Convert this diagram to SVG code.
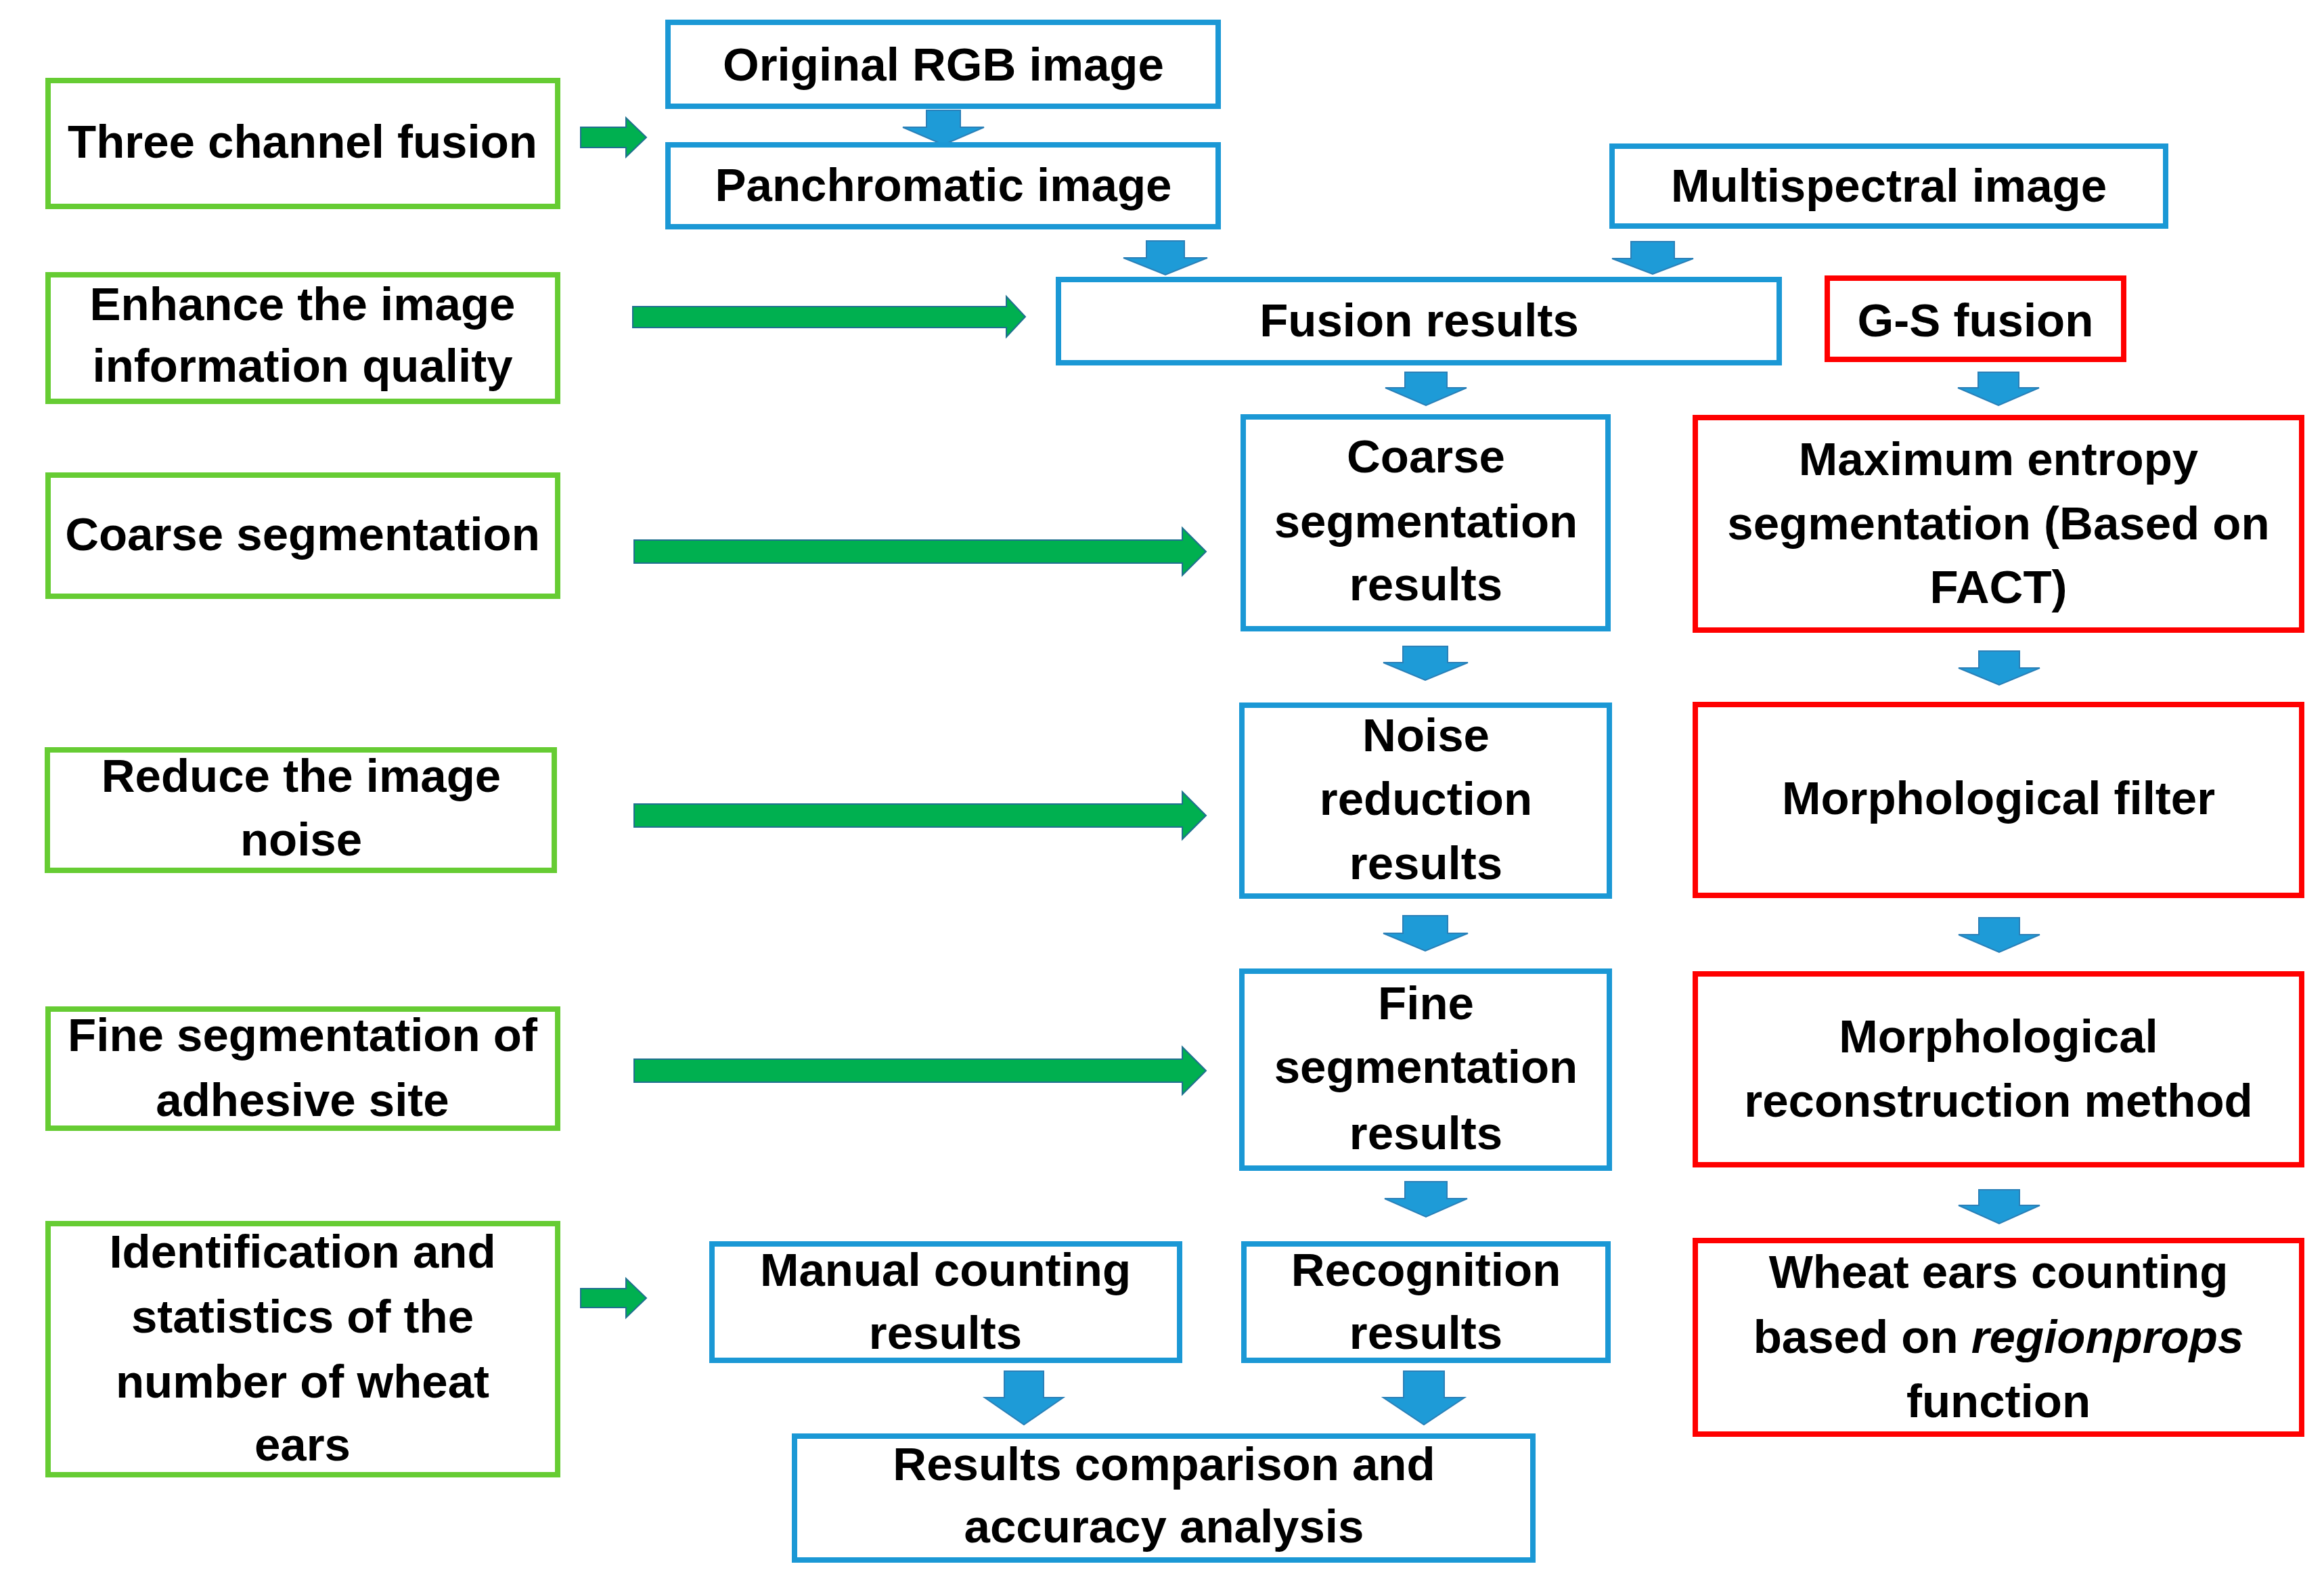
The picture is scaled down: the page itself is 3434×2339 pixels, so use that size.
<svg xmlns="http://www.w3.org/2000/svg" width="3434" height="2339" viewBox="0 0 3434 2339">
<style>
.bx{fill:#fff;stroke-width:8}
.g{stroke:#66cc33}
.b{stroke:#1b98d5}
.r{stroke:#ff0000}
.t{font-family:"Liberation Sans",Arial,sans-serif;font-weight:bold;font-size:69px;fill:#000;text-anchor:middle}
.da{fill:#1e9bd7;stroke:#2a80b8;stroke-width:2}
.ra{fill:#00b050;stroke:#1f6f8f;stroke-width:2}
</style>
<rect width="3434" height="2339" fill="#fff"/>
<g id="connectors">
<path class="da" d="M1369,163H1419V188H1454L1394,214L1334,188H1369Z"/>
<path class="da" d="M1694,356H1750V381H1784L1722,406L1660,381H1694Z"/>
<path class="da" d="M2410,357H2474V382H2502L2442,405L2382,382H2410Z"/>
<path class="da" d="M2076,550H2138V573H2167L2107,599L2047,573H2076Z"/>
<path class="da" d="M2923,550H2983V573H3013L2953,599L2893,573H2923Z"/>
<path class="da" d="M2073,955H2139V979H2169L2106,1005L2044,979H2073Z"/>
<path class="da" d="M2924,962H2984V987H3014L2954,1012L2894,987H2924Z"/>
<path class="da" d="M2073,1353H2139V1379H2169L2106,1405L2044,1379H2073Z"/>
<path class="da" d="M2924,1356H2984V1381H3014L2954,1407L2894,1381H2924Z"/>
<path class="da" d="M2076,1746H2138V1771H2168L2107,1798L2046,1771H2076Z"/>
<path class="da" d="M2924,1758H2984V1781H3014L2954,1808L2894,1781H2924Z"/>
<path class="da" d="M1484,2026H1542V2065H1571L1513,2105L1455,2065H1484Z"/>
<path class="da" d="M2074,2026H2134V2065H2164L2104,2105L2044,2065H2074Z"/>
<path class="ra" d="M858,188H925V174L955,203L925,232V218H858Z"/>
<path class="ra" d="M858,1904H925V1889L955,1918L925,1947V1932H858Z"/>
<path class="ra" d="M935,453H1487V438L1515,468L1487,498V484H935Z"/>
<path class="ra" d="M937,798H1747V780L1782,815L1747,850V832H937Z"/>
<path class="ra" d="M937,1188H1747V1170L1782,1205L1747,1240V1222H937Z"/>
<path class="ra" d="M937,1565H1747V1547L1782,1582L1747,1617V1599H937Z"/>
</g>
<g id="n-three-channel"><rect class="bx g" x="71" y="119" width="753" height="186"/><text class="t" x="447" y="233">Three channel fusion</text></g>
<g id="n-enhance"><rect class="bx g" x="71" y="406" width="753" height="187"/><text class="t" x="447" y="473">Enhance the image</text><text class="t" x="447" y="564">information quality</text></g>
<g id="n-coarse-seg"><rect class="bx g" x="71" y="702" width="753" height="179"/><text class="t" x="447" y="813">Coarse segmentation</text></g>
<g id="n-reduce-noise"><rect class="bx g" x="70" y="1108" width="749" height="178"/><text class="t" x="445" y="1170">Reduce the image</text><text class="t" x="445" y="1264">noise</text></g>
<g id="n-fine-adhesive"><rect class="bx g" x="71" y="1491" width="753" height="176"/><text class="t" x="447" y="1553">Fine segmentation of</text><text class="t" x="447" y="1649">adhesive site</text></g>
<g id="n-identification"><rect class="bx g" x="71" y="1808" width="753" height="371"/><text class="t" x="447" y="1873">Identification and</text><text class="t" x="447" y="1969">statistics of the</text><text class="t" x="447" y="2065">number of wheat</text><text class="t" x="447" y="2158">ears</text></g>
<g id="n-original"><rect class="bx b" x="987" y="33" width="813" height="124"/><text class="t" x="1394" y="119">Original RGB image</text></g>
<g id="n-panchromatic"><rect class="bx b" x="987" y="214" width="813" height="121"/><text class="t" x="1394" y="297">Panchromatic image</text></g>
<g id="n-multispectral"><rect class="bx b" x="2382" y="216" width="818" height="118"/><text class="t" x="2791" y="298">Multispectral image</text></g>
<g id="n-fusion-results"><rect class="bx b" x="1564" y="413" width="1065" height="123"/><text class="t" x="2097" y="497">Fusion results</text></g>
<g id="n-gs-fusion"><rect class="bx r" x="2700" y="411" width="438" height="120"/><text class="t" x="2919" y="497">G-S fusion</text></g>
<g id="n-coarse-results"><rect class="bx b" x="1837" y="616" width="539" height="313"/><text class="t" x="2107" y="698">Coarse</text><text class="t" x="2107" y="794">segmentation</text><text class="t" x="2107" y="887">results</text></g>
<g id="n-max-entropy"><rect class="bx r" x="2505" y="617" width="896" height="314"/><text class="t" x="2953" y="702">Maximum entropy</text><text class="t" x="2953" y="797">segmentation (Based on</text><text class="t" x="2953" y="891">FACT)</text></g>
<g id="n-noise-results"><rect class="bx b" x="1835" y="1042" width="543" height="282"/><text class="t" x="2107" y="1110">Noise</text><text class="t" x="2107" y="1204">reduction</text><text class="t" x="2107" y="1299">results</text></g>
<g id="n-morph-filter"><rect class="bx r" x="2505" y="1041" width="896" height="282"/><text class="t" x="2953" y="1203">Morphological filter</text></g>
<g id="n-fine-results"><rect class="bx b" x="1835" y="1435" width="543" height="291"/><text class="t" x="2107" y="1506">Fine</text><text class="t" x="2107" y="1600">segmentation</text><text class="t" x="2107" y="1698">results</text></g>
<g id="n-morph-recon"><rect class="bx r" x="2505" y="1439" width="896" height="282"/><text class="t" x="2953" y="1555">Morphological</text><text class="t" x="2953" y="1650">reconstruction method</text></g>
<g id="n-manual"><rect class="bx b" x="1052" y="1838" width="691" height="172"/><text class="t" x="1397" y="1900">Manual counting</text><text class="t" x="1397" y="1993">results</text></g>
<g id="n-recognition"><rect class="bx b" x="1838" y="1838" width="538" height="172"/><text class="t" x="2107" y="1900">Recognition</text><text class="t" x="2107" y="1993">results</text></g>
<g id="n-comparison"><rect class="bx b" x="1174" y="2122" width="1091" height="183"/><text class="t" x="1720" y="2187">Results comparison and</text><text class="t" x="1720" y="2279">accuracy analysis</text></g>
<g id="n-wheat-counting"><rect class="bx r" x="2505" y="1833" width="896" height="286"/><text class="t" x="2953" y="1903">Wheat ears counting</text><text class="t" x="2953" y="1999">based on <tspan font-style="italic">regionprops</tspan></text><text class="t" x="2953" y="2094">function</text></g>
</svg>
